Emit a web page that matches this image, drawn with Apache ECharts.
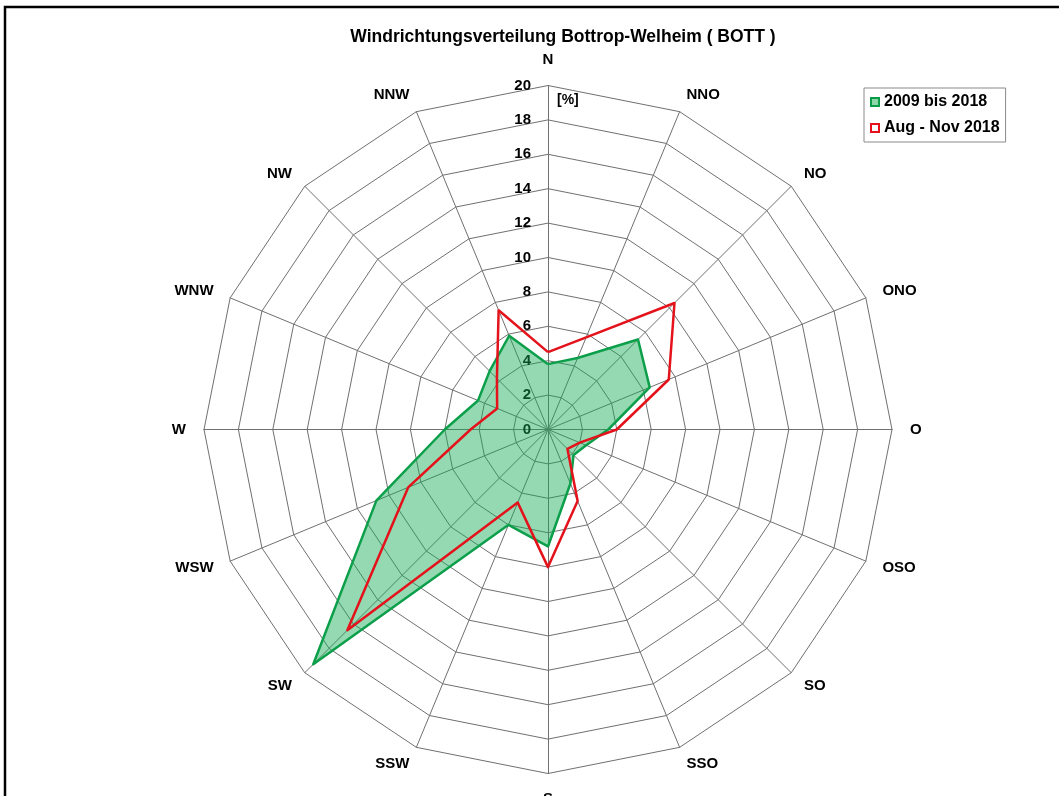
<!DOCTYPE html>
<html><head><meta charset="utf-8">
<script src="https://cdn.jsdelivr.net/npm/echarts@6/dist/echarts.min.js"></script>
<style>html,body{margin:0;padding:0;background:#fff}#c{width:1059px;height:796px}</style>
</head><body><div id="c"></div>
<script>
// Directions clockwise starting at North
const directions = ['N','NNO','NO','ONO','O','OSO','SO','SSO','S','SSW','SW','WSW','W','WNW','NW','NNW'];
const longTerm = [3.8,4.5,7.4,6.4,3.5,2.4,2.1,3.4,6.8,6.0,19.3,10.8,6.0,4.4,4.8,5.9];
const period = [4.5,5.8,10.4,7.6,4.0,2.0,1.6,4.5,8.0,4.6,16.5,8.8,4.5,3.2,4.2,7.5];
const seriesNames = ['2009 bis 2018','Aug - Nov 2018'];
const axisMin = 0, axisMax = 20, axisSplits = 10;
const titleText = 'Windrichtungsverteilung Bottrop-Welheim ( BOTT )';
const unitText = '[%]';

// ECharts radar places indicators counter-clockwise; reorder so directions run clockwise
const order = [0].concat(directions.map((d,i)=>i).slice(1).reverse());
const FONT = 'Liberation Sans, Arial, sans-serif';

const indicator = order.map((i,k) => {
  const o = { name: directions[i], min: axisMin, max: axisMax };
  if (k === 0) o.axisLabel = { show: true };
  return o;
});

const chart = echarts.init(document.getElementById('c'));
chart.setOption({
  backgroundColor: '#fff',
  animation: false,
  graphic: [
    { type: 'rect', shape: { x: 5, y: 7, width: 1200, height: 1000 }, style: { fill: 'none', stroke: '#000', lineWidth: 2.5 }, z: 100 },
    { type: 'text', x: 563, y: 37, style: { text: titleText, font: 'bold 17.5px ' + FONT, fill: '#000', textAlign: 'center', textVerticalAlign: 'middle' } },
    { type: 'text', x: 557, y: 100, style: { text: unitText, font: 'bold 14px ' + FONT, fill: '#000', textAlign: 'left', textVerticalAlign: 'middle' } }
  ],
  legend: {
    orient: 'vertical',
    left: 864, top: 88,
    backgroundColor: '#fff',
    borderColor: '#8a8a8a', borderWidth: 1,
    padding: [6, 6, 6, 6],
    itemGap: 10,
    itemWidth: 8, itemHeight: 8,
    textStyle: { fontFamily: FONT, fontWeight: 'bold', fontSize: 16, color: '#000' },
    data: [
      { name: seriesNames[0], icon: 'rect', itemStyle: { color: '#8fd6a9', borderColor: '#0a9c48', borderWidth: 2 } },
      { name: seriesNames[1], icon: 'rect', itemStyle: { color: '#fff', borderColor: '#e3121b', borderWidth: 2 } }
    ]
  },
  radar: {
    center: [548, 429.5],
    radius: 344,
    startAngle: 90,
    shape: 'polygon',
    splitNumber: axisSplits,
    indicator: indicator,
    axisName: { color: '#000', fontFamily: FONT, fontWeight: 'bold', fontSize: 15 },
    nameGap: 18,
    axisLine: { lineStyle: { color: '#707070', width: 1 } },
    splitLine: { lineStyle: { color: '#707070', width: 1 } },
    splitArea: { show: false },
    axisTick: { show: false },
    axisLabel: { show: false, color: '#000', fontFamily: FONT, fontWeight: 'bold', fontSize: 15, margin: 17, showMinLabel: true, showMaxLabel: true }
  },
  series: [{
    type: 'radar',
    symbol: 'none',
    data: [
      { name: seriesNames[0], value: order.map(i => longTerm[i]),
        lineStyle: { color: '#0a9c48', width: 2.5 },
        itemStyle: { color: '#0a9c48' },
        areaStyle: { color: 'rgba(20,170,85,0.45)', opacity: 1 } },
      { name: seriesNames[1], value: order.map(i => period[i]),
        lineStyle: { color: '#e3121b', width: 2.5 },
        itemStyle: { color: '#e3121b' } }
    ]
  }]
});
</script></body></html>
